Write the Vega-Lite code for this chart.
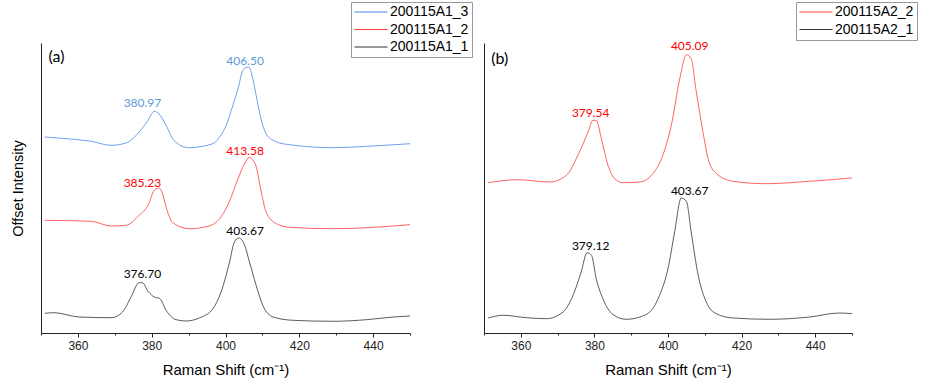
{
  "$schema": "https://vega.github.io/schema/vega-lite/v6.json",
  "padding": {"left": 10, "top": 1, "right": 3, "bottom": 5},
  "bounds": "flush",
  "spacing": 74,
  "background": "white",
  "config": {
    "view": {"stroke": null},
    "axisX": {"domainColor": "#222", "tickColor": "#222", "tickSize": 4, "labelFont": "Liberation Sans", "labelFontSize": 12, "labelColor": "#222", "labelOverlap": false, "titleFont": "Liberation Sans", "titleFontSize": 15, "titleFontWeight": "normal", "titleColor": "#000", "grid": false, "labelPadding": 3, "titlePadding": 11},
    "axisY": {"domainColor": "#222", "ticks": false, "labels": false, "grid": false, "titleFont": "Liberation Sans", "titleFontSize": 14.5, "titleFontWeight": "normal", "titleColor": "#000", "titlePadding": 16},
    "legend": {"symbolType": "M-3,0H3", "symbolSize": 121, "symbolStrokeWidth": 1, "labelFont": "Liberation Sans", "labelFontSize": 14, "labelColor": "#000", "padding": 3, "rowPadding": 3.5, "strokeColor": "#999", "labelOffset": 12, "symbolOffset": 10, "fillColor": "white"}
  },
  "resolve": {"scale": {"color": "independent", "fill": "independent"}},
  "datasets": {
    "a": [
      {"series": "200115A1_3", "shift": 351, "intensity": 196},
      {"series": "200115A1_3", "shift": 358, "intensity": 194},
      {"series": "200115A1_3", "shift": 363.6, "intensity": 191.7},
      {"series": "200115A1_3", "shift": 369, "intensity": 187.7},
      {"series": "200115A1_3", "shift": 373, "intensity": 190},
      {"series": "200115A1_3", "shift": 376.6, "intensity": 201},
      {"series": "200115A1_3", "shift": 379, "intensity": 212.7},
      {"series": "200115A1_3", "shift": 380.7, "intensity": 221.7},
      {"series": "200115A1_3", "shift": 382, "intensity": 219},
      {"series": "200115A1_3", "shift": 383.9, "intensity": 207.7},
      {"series": "200115A1_3", "shift": 386, "intensity": 192.7},
      {"series": "200115A1_3", "shift": 390, "intensity": 185.3},
      {"series": "200115A1_3", "shift": 396.6, "intensity": 189.3},
      {"series": "200115A1_3", "shift": 398.4, "intensity": 196},
      {"series": "200115A1_3", "shift": 400.2, "intensity": 207.7},
      {"series": "200115A1_3", "shift": 402, "intensity": 227.7},
      {"series": "200115A1_3", "shift": 403.4, "intensity": 244.3},
      {"series": "200115A1_3", "shift": 404.7, "intensity": 262.7},
      {"series": "200115A1_3", "shift": 405.4, "intensity": 265},
      {"series": "200115A1_3", "shift": 406.3, "intensity": 266},
      {"series": "200115A1_3", "shift": 407.4, "intensity": 254.3},
      {"series": "200115A1_3", "shift": 408.3, "intensity": 237.7},
      {"series": "200115A1_3", "shift": 409.2, "intensity": 221},
      {"series": "200115A1_3", "shift": 410.1, "intensity": 207.7},
      {"series": "200115A1_3", "shift": 411, "intensity": 199.3},
      {"series": "200115A1_3", "shift": 412.9, "intensity": 192.7},
      {"series": "200115A1_3", "shift": 416.5, "intensity": 188.7},
      {"series": "200115A1_3", "shift": 429.2, "intensity": 185.3},
      {"series": "200115A1_3", "shift": 438.2, "intensity": 186.7},
      {"series": "200115A1_3", "shift": 450, "intensity": 189.3},
      {"series": "200115A1_2", "shift": 351, "intensity": 112.7},
      {"series": "200115A1_2", "shift": 363.6, "intensity": 111.7},
      {"series": "200115A1_2", "shift": 369, "intensity": 107},
      {"series": "200115A1_2", "shift": 373, "intensity": 107.7},
      {"series": "200115A1_2", "shift": 376.6, "intensity": 117.7},
      {"series": "200115A1_2", "shift": 379, "intensity": 127.7},
      {"series": "200115A1_2", "shift": 380.7, "intensity": 142.7},
      {"series": "200115A1_2", "shift": 381.9, "intensity": 145},
      {"series": "200115A1_2", "shift": 382.8, "intensity": 141},
      {"series": "200115A1_2", "shift": 383.9, "intensity": 126},
      {"series": "200115A1_2", "shift": 385.7, "intensity": 110.3},
      {"series": "200115A1_2", "shift": 390.2, "intensity": 104.3},
      {"series": "200115A1_2", "shift": 395.6, "intensity": 107},
      {"series": "200115A1_2", "shift": 398.4, "intensity": 114.3},
      {"series": "200115A1_2", "shift": 401, "intensity": 131},
      {"series": "200115A1_2", "shift": 403.4, "intensity": 154.3},
      {"series": "200115A1_2", "shift": 405.4, "intensity": 171},
      {"series": "200115A1_2", "shift": 406.5, "intensity": 175.7},
      {"series": "200115A1_2", "shift": 407.6, "intensity": 172},
      {"series": "200115A1_2", "shift": 408.2, "intensity": 167.7},
      {"series": "200115A1_2", "shift": 409.7, "intensity": 141},
      {"series": "200115A1_2", "shift": 411, "intensity": 121},
      {"series": "200115A1_2", "shift": 413.8, "intensity": 109.3},
      {"series": "200115A1_2", "shift": 417.4, "intensity": 105.7},
      {"series": "200115A1_2", "shift": 429.2, "intensity": 104.3},
      {"series": "200115A1_2", "shift": 450, "intensity": 108.3},
      {"series": "200115A1_1", "shift": 351, "intensity": 19.7},
      {"series": "200115A1_1", "shift": 353.5, "intensity": 20.3},
      {"series": "200115A1_1", "shift": 360.3, "intensity": 16},
      {"series": "200115A1_1", "shift": 369, "intensity": 15.3},
      {"series": "200115A1_1", "shift": 372.1, "intensity": 21},
      {"series": "200115A1_1", "shift": 374.4, "intensity": 36},
      {"series": "200115A1_1", "shift": 376.6, "intensity": 50.3},
      {"series": "200115A1_1", "shift": 377.5, "intensity": 50.3},
      {"series": "200115A1_1", "shift": 379, "intensity": 41.7},
      {"series": "200115A1_1", "shift": 380.7, "intensity": 36},
      {"series": "200115A1_1", "shift": 382.2, "intensity": 34.3},
      {"series": "200115A1_1", "shift": 383.9, "intensity": 22.7},
      {"series": "200115A1_1", "shift": 386.6, "intensity": 13.3},
      {"series": "200115A1_1", "shift": 389.3, "intensity": 12},
      {"series": "200115A1_1", "shift": 392.9, "intensity": 15},
      {"series": "200115A1_1", "shift": 396.6, "intensity": 24.3},
      {"series": "200115A1_1", "shift": 398.8, "intensity": 41},
      {"series": "200115A1_1", "shift": 401.1, "intensity": 71},
      {"series": "200115A1_1", "shift": 402.4, "intensity": 91},
      {"series": "200115A1_1", "shift": 403.6, "intensity": 95},
      {"series": "200115A1_1", "shift": 405.2, "intensity": 87.7},
      {"series": "200115A1_1", "shift": 406.5, "intensity": 71},
      {"series": "200115A1_1", "shift": 408.3, "intensity": 47.7},
      {"series": "200115A1_1", "shift": 410.1, "intensity": 27.7},
      {"series": "200115A1_1", "shift": 412.9, "intensity": 16},
      {"series": "200115A1_1", "shift": 418.3, "intensity": 12.7},
      {"series": "200115A1_1", "shift": 429.2, "intensity": 11.7},
      {"series": "200115A1_1", "shift": 438.2, "intensity": 13.3},
      {"series": "200115A1_1", "shift": 445.5, "intensity": 16},
      {"series": "200115A1_1", "shift": 450, "intensity": 17}
    ],
    "b": [
      {"series": "200115A2_2", "shift": 351.1, "intensity": 150.3},
      {"series": "200115A2_2", "shift": 359.2, "intensity": 153.3},
      {"series": "200115A2_2", "shift": 367.8, "intensity": 151},
      {"series": "200115A2_2", "shift": 372.4, "intensity": 157.7},
      {"series": "200115A2_2", "shift": 375.5, "intensity": 177.7},
      {"series": "200115A2_2", "shift": 378.3, "intensity": 201},
      {"series": "200115A2_2", "shift": 379.6, "intensity": 212.7},
      {"series": "200115A2_2", "shift": 380.5, "intensity": 212.7},
      {"series": "200115A2_2", "shift": 381.9, "intensity": 194.3},
      {"series": "200115A2_2", "shift": 383.7, "intensity": 167.7},
      {"series": "200115A2_2", "shift": 385.5, "intensity": 154.3},
      {"series": "200115A2_2", "shift": 387.8, "intensity": 150.3},
      {"series": "200115A2_2", "shift": 392.3, "intensity": 151},
      {"series": "200115A2_2", "shift": 395.9, "intensity": 159.3},
      {"series": "200115A2_2", "shift": 398.6, "intensity": 177.7},
      {"series": "200115A2_2", "shift": 400.9, "intensity": 207.7},
      {"series": "200115A2_2", "shift": 403.2, "intensity": 254.3},
      {"series": "200115A2_2", "shift": 405, "intensity": 278.3},
      {"series": "200115A2_2", "shift": 406.3, "intensity": 274.3},
      {"series": "200115A2_2", "shift": 407.7, "intensity": 241},
      {"series": "200115A2_2", "shift": 409.5, "intensity": 201},
      {"series": "200115A2_2", "shift": 410.9, "intensity": 174.3},
      {"series": "200115A2_2", "shift": 412.7, "intensity": 161},
      {"series": "200115A2_2", "shift": 417.7, "intensity": 151.7},
      {"series": "200115A2_2", "shift": 426.7, "intensity": 149.3},
      {"series": "200115A2_2", "shift": 438.5, "intensity": 151.7},
      {"series": "200115A2_2", "shift": 450, "intensity": 155},
      {"series": "200115A2_1", "shift": 351.1, "intensity": 15},
      {"series": "200115A2_1", "shift": 355.2, "intensity": 17.7},
      {"series": "200115A2_1", "shift": 361.5, "intensity": 15.3},
      {"series": "200115A2_1", "shift": 366.9, "intensity": 14.3},
      {"series": "200115A2_1", "shift": 371.5, "intensity": 21},
      {"series": "200115A2_1", "shift": 374.2, "intensity": 37.7},
      {"series": "200115A2_1", "shift": 376.4, "intensity": 61},
      {"series": "200115A2_1", "shift": 378, "intensity": 80.3},
      {"series": "200115A2_1", "shift": 379.2, "intensity": 77.7},
      {"series": "200115A2_1", "shift": 380.5, "intensity": 54.3},
      {"series": "200115A2_1", "shift": 382.3, "intensity": 34.3},
      {"series": "200115A2_1", "shift": 385.1, "intensity": 18.3},
      {"series": "200115A2_1", "shift": 388.7, "intensity": 13.7},
      {"series": "200115A2_1", "shift": 392.3, "intensity": 16},
      {"series": "200115A2_1", "shift": 395.5, "intensity": 22.7},
      {"series": "200115A2_1", "shift": 397.7, "intensity": 37.7},
      {"series": "200115A2_1", "shift": 400, "intensity": 64.3},
      {"series": "200115A2_1", "shift": 401.8, "intensity": 101},
      {"series": "200115A2_1", "shift": 403.6, "intensity": 135},
      {"series": "200115A2_1", "shift": 405, "intensity": 131.7},
      {"series": "200115A2_1", "shift": 406.3, "intensity": 101},
      {"series": "200115A2_1", "shift": 408.2, "intensity": 57.7},
      {"series": "200115A2_1", "shift": 410.4, "intensity": 31},
      {"series": "200115A2_1", "shift": 413.1, "intensity": 19.3},
      {"series": "200115A2_1", "shift": 417.7, "intensity": 15},
      {"series": "200115A2_1", "shift": 427.6, "intensity": 13.7},
      {"series": "200115A2_1", "shift": 438.5, "intensity": 16},
      {"series": "200115A2_1", "shift": 446.6, "intensity": 20},
      {"series": "200115A2_1", "shift": 450, "intensity": 19.3}
    ],
    "la": [
      {"series": "200115A1_3", "shift": 405.3, "intensity": 271.7, "label": "406.50"},
      {"series": "200115A1_3", "shift": 377.5, "intensity": 230, "label": "380.97"},
      {"series": "200115A1_2", "shift": 405.3, "intensity": 181.7, "label": "413.58"},
      {"series": "200115A1_2", "shift": 377.5, "intensity": 150.3, "label": "385.23"},
      {"series": "200115A1_1", "shift": 405.3, "intensity": 102, "label": "403.67"},
      {"series": "200115A1_1", "shift": 377.5, "intensity": 59, "label": "376.70"}
    ],
    "lb": [
      {"series": "200115A2_2", "shift": 405.9, "intensity": 286.7, "label": "405.09"},
      {"series": "200115A2_2", "shift": 379, "intensity": 220, "label": "379.54"},
      {"series": "200115A2_1", "shift": 405.9, "intensity": 141.7, "label": "403.67"},
      {"series": "200115A2_1", "shift": 379, "intensity": 87, "label": "379.12"}
    ]
  },
  "hconcat": [
    {
      "width": 369,
      "height": 290,
      "resolve": {"axis": {"x": "independent"}},
      "layer": [
        {
          "data": {"name": "a"},
          "mark": {"type": "line", "strokeWidth": 0.8, "interpolate": "monotone"},
          "encoding": {
            "x": {"field": "shift", "type": "quantitative", "scale": {"domain": [350, 450], "nice": false, "zero": false}, "axis": {"orient": "bottom", "values": [360, 380, 400, 420, 440], "titlePadding": 11}, "title": "Raman Shift (cm⁻¹)"},
            "y": {"field": "intensity", "type": "quantitative", "scale": {"domain": [0, 290], "nice": false}, "title": "Offset Intensity"},
            "color": {"field": "series", "type": "nominal", "scale": {"domain": ["200115A1_3", "200115A1_2", "200115A1_1"], "range": ["#4a86e8", "#ff3b3b", "#333333"]}, "legend": {"orient": "none", "legendX": 310, "legendY": -41, "title": null, "labelFont": "Liberation Sans", "labelFontSize": 14}}
          }
        },
        {
          "data": {"name": "la"},
          "mark": {"type": "text", "font": "Lato", "fontSize": 12, "baseline": "middle", "align": "center"},
          "encoding": {
            "x": {"field": "shift", "type": "quantitative", "axis": null},
            "y": {"field": "intensity", "type": "quantitative"},
            "text": {"field": "label"},
            "fill": {"field": "series", "type": "nominal", "scale": {"domain": ["200115A1_3", "200115A1_2", "200115A1_1"], "range": ["#5b9bd5", "#ff0000", "#000000"]}, "legend": null}
          }
        },
        {
          "data": {"values": [{"panel": "(a)"}]},
          "mark": {"type": "text", "font": "Lato", "fontSize": 16, "baseline": "middle", "align": "center", "color": "#000"},
          "encoding": {
            "x": {"datum": 354.2, "type": "quantitative", "axis": {"orient": "bottom", "values": [350, 370, 390, 410, 430, 450], "labels": false, "domain": false, "title": null, "tickSize": 2}},
            "y": {"datum": 276, "type": "quantitative"},
            "text": {"field": "panel"}
          }
        }
      ]
    },
    {
      "width": 368,
      "height": 290,
      "resolve": {"axis": {"x": "independent"}},
      "layer": [
        {
          "data": {"name": "b"},
          "mark": {"type": "line", "strokeWidth": 0.8, "interpolate": "monotone"},
          "encoding": {
            "x": {"field": "shift", "type": "quantitative", "scale": {"domain": [350, 450], "nice": false, "zero": false}, "axis": {"orient": "bottom", "values": [360, 380, 400, 420, 440], "titlePadding": 11}, "title": "Raman Shift (cm⁻¹)"},
            "y": {"field": "intensity", "type": "quantitative", "scale": {"domain": [0, 290], "nice": false}, "title": null},
            "color": {"field": "series", "type": "nominal", "scale": {"domain": ["200115A2_2", "200115A2_1"], "range": ["#ff3b3b", "#333333"]}, "legend": {"orient": "none", "legendX": 312, "legendY": -41, "title": null, "labelFont": "Liberation Sans", "labelFontSize": 14}}
          }
        },
        {
          "data": {"name": "lb"},
          "mark": {"type": "text", "font": "Lato", "fontSize": 12, "baseline": "middle", "align": "center"},
          "encoding": {
            "x": {"field": "shift", "type": "quantitative", "axis": null},
            "y": {"field": "intensity", "type": "quantitative"},
            "text": {"field": "label"},
            "fill": {"field": "series", "type": "nominal", "scale": {"domain": ["200115A2_2", "200115A2_1"], "range": ["#ff0000", "#000000"]}, "legend": null}
          }
        },
        {
          "data": {"values": [{"panel": "(b)"}]},
          "mark": {"type": "text", "font": "Lato", "fontSize": 16, "baseline": "middle", "align": "center", "color": "#000"},
          "encoding": {
            "x": {"datum": 354.3, "type": "quantitative", "axis": {"orient": "bottom", "values": [350, 370, 390, 410, 430, 450], "labels": false, "domain": false, "title": null, "tickSize": 2}},
            "y": {"datum": 273.7, "type": "quantitative"},
            "text": {"field": "panel"}
          }
        }
      ]
    }
  ]
}
